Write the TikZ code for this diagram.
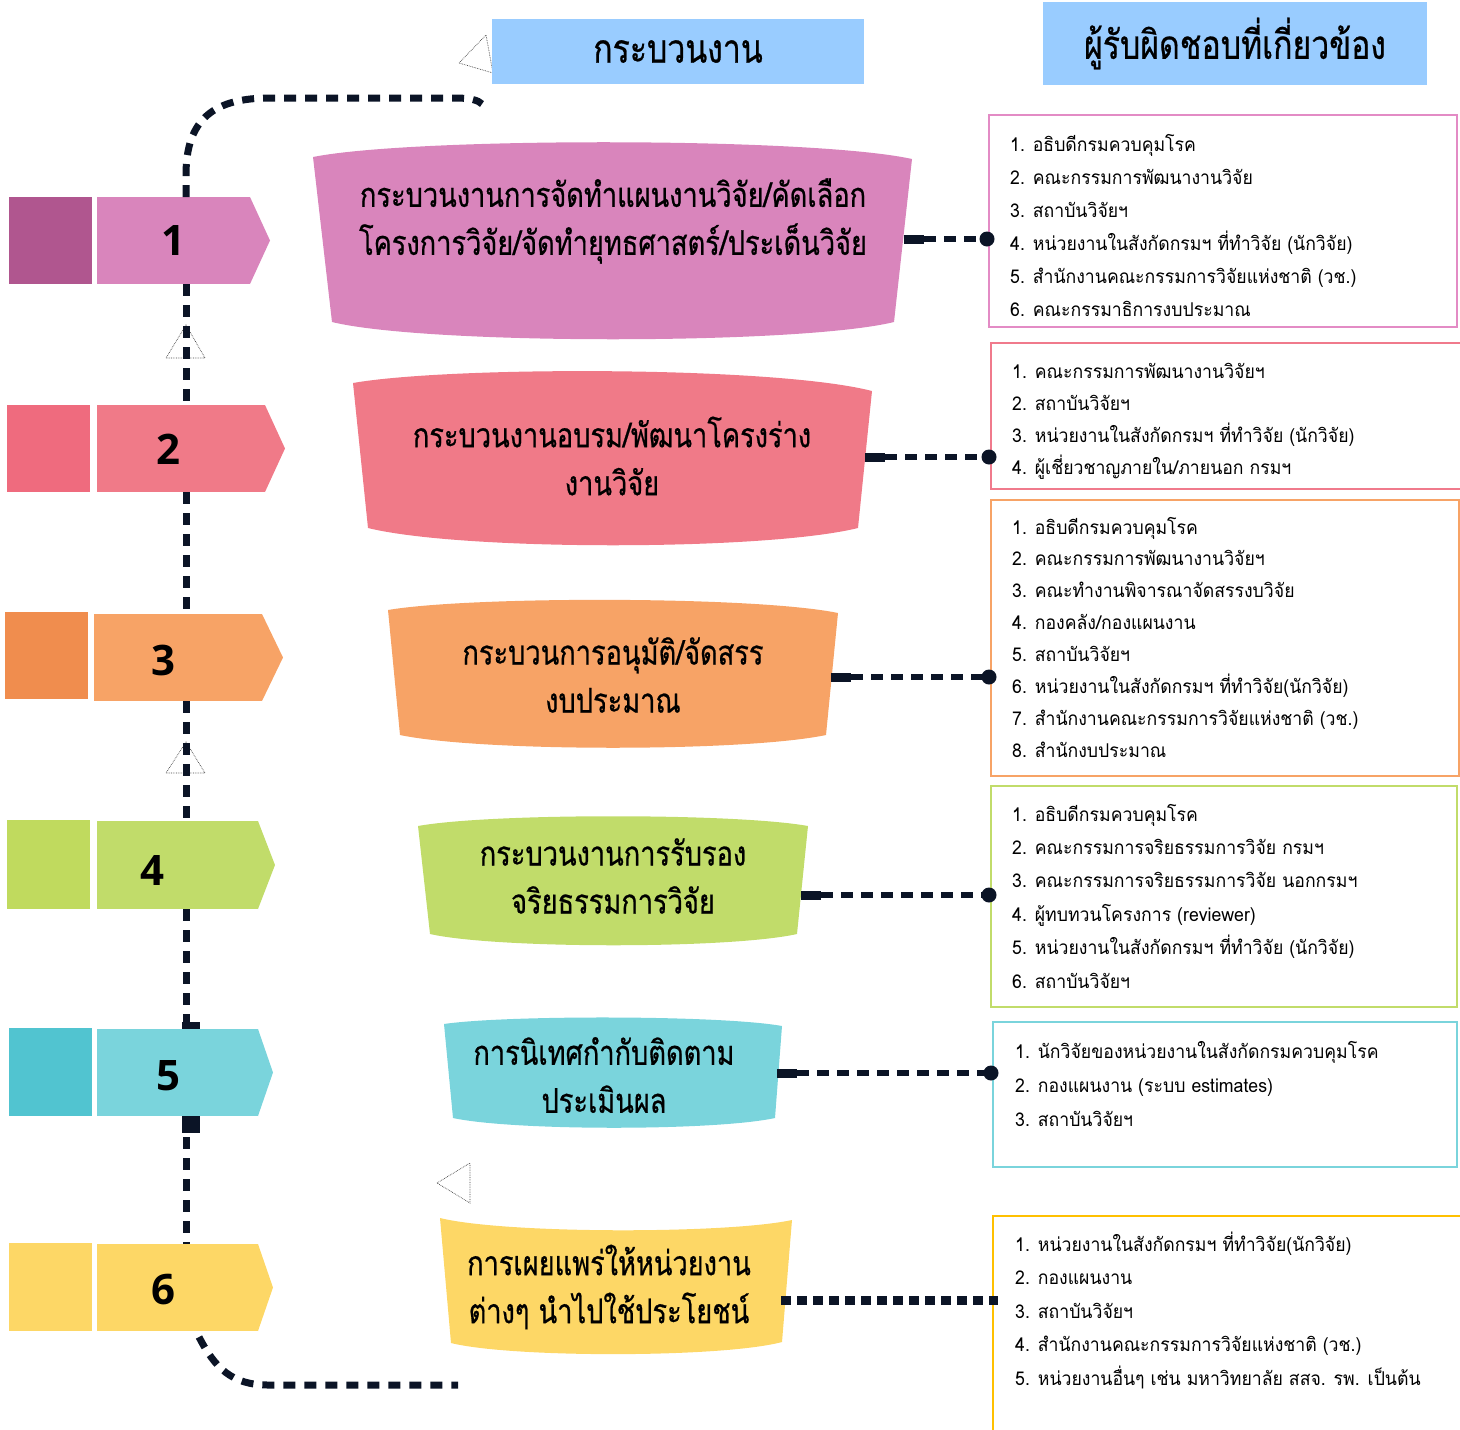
\documentclass[tikz,border=0pt]{standalone}
\usepackage{fontspec}
\newfontfamily\thaifont[Script=Thai,FakeStretch=0.93]{Loma}
\newfontfamily\thaicond[Script=Thai,FakeStretch=0.8,FakeBold=0.6]{Loma}
\newfontfamily\numfont{Open Sans}
\usetikzlibrary{calc,arrows.meta}
\definecolor{lnc}{HTML}{0B1426}
\definecolor{hdrblue}{HTML}{99CCFF}
\definecolor{ma1}{HTML}{B0568F}\definecolor{mb1}{HTML}{D985BC}
\definecolor{ma2}{HTML}{EF6B7E}\definecolor{mb2}{HTML}{F07A88}
\definecolor{ma3}{HTML}{F08D4E}\definecolor{mb3}{HTML}{F7A366}
\definecolor{ma4}{HTML}{C0DA5E}\definecolor{mb4}{HTML}{C1DC6A}
\definecolor{ma5}{HTML}{51C4D0}\definecolor{mb5}{HTML}{7AD4DC}
\definecolor{ma6}{HTML}{FDD766}\definecolor{mb6}{HTML}{FDD766}
\definecolor{bd1}{HTML}{E38BC5}\definecolor{bd2}{HTML}{F07A8C}
\definecolor{bd3}{HTML}{F7A366}\definecolor{bd4}{HTML}{C1DC6A}
\definecolor{bd5}{HTML}{7AD4DC}\definecolor{bd6}{HTML}{FFC000}
\newcommand{\listitems}[5]{%
  \foreach \t [count=\i from 0] in {#5}
    \node[listtxt] (#1-\i) at (#2,{#3+\i*#4}) {\t};}
\begin{document}
\begin{tikzpicture}[x=1pt,y=-1pt,
  flow/.style={draw=lnc,line width=7pt,dash pattern=on 12pt off 9pt},
  conn/.style={draw=lnc,line width=6.5pt,dash pattern=on 12pt off 8pt},
  connstart/.style={draw=lnc,line width=9pt},
  dotconn/.style={draw=lnc,line width=9pt,dash pattern=on 10pt off 6pt},
  enddot/.style={fill=lnc},
  tri/.style={fill=white,draw=black!75,line width=0.7pt,densely dotted},
  hdr/.style={fill=hdrblue,inner sep=0pt,font=\thaicond\fontsize{40}{46}\selectfont},
  pent/.style={inner sep=0pt,outer sep=0pt},
  num/.style={font=\numfont\bfseries\fontsize{42}{46}\selectfont,inner sep=0pt},
  btxt/.style={align=center,inner sep=0pt,font=\thaicond\fontsize{34}{48}\selectfont},
  rbox/.style={line width=2pt,fill=white,inner sep=0pt},
  listtxt/.style={anchor=base west,inner sep=0pt,font=\thaifont\fontsize{19}{22}\selectfont}]
\useasboundingbox (0,0) rectangle (1460,1430);
\coordinate (vx) at (186,0);

% ---------- markers (pentagon bodies as nodes)
\node[pent,fill=mb1,minimum width=153pt,minimum height=87pt] (p1) at (173.5,240.5) {};
\node[pent,fill=mb2,minimum width=168pt,minimum height=87pt] (p2) at (181,448.5) {};
\node[pent,fill=mb3,minimum width=168pt,minimum height=87pt] (p3) at (178,657.5) {};
\node[pent,fill=mb4,minimum width=161pt,minimum height=88pt] (p4) at (177.5,865) {};
\node[pent,fill=mb5,minimum width=161pt,minimum height=87pt] (p5) at (177.5,1072.5) {};
\node[pent,fill=mb6,minimum width=161pt,minimum height=87pt] (p6) at (177.5,1287.5) {};

% ---------- triangles on the flow
\filldraw[tri] (166,358) -- (205,358) -- (186,325) -- cycle;
\filldraw[tri] (166,773) -- (205,773) -- (186,742) -- cycle;
\filldraw[tri] (437,1183) -- (470,1163) -- (470,1203) -- cycle;
\filldraw[tri] (459,63) -- (486,35) -- (493,73) -- cycle;

% ---------- vertical flow between markers
\draw[flow] (p1.south -| vx) -- (p2.north -| vx);
\draw[flow] (p2.south -| vx) -- (p3.north -| vx);
\draw[flow] (p3.south -| vx) -- (p4.north -| vx);
\draw[flow] (p4.south -| vx) -- (p5.north -| vx);
\draw[flow] (p5.south -| vx) -- (p6.north -| vx);
\fill[lnc] (182,1022) rectangle (200,1029);
\fill[lnc] (182,1116) rectangle (200,1133);

% ---------- loops
\coordinate (topend) at (482,104);
\coordinate (botend) at (458,1385);
\draw[flow] (p1.north -| vx) -- ++(0,-22) .. controls (186,118) and (215,98) .. (270,98) -- (455,98) .. controls (470,98) and (478,100) .. (topend);
\draw[flow] ($(p6.south -| vx)+(13,6)$) .. controls (215,1368) and (232,1385) .. (268,1385) -- (botend);

% ---------- marker squares, tips and numbers
\fill[ma1] (9,197) rectangle (92,284);
\fill[ma2] (7,405) rectangle (90,492);
\fill[ma3] (5,612) rectangle (88,699);
\fill[ma4] (7,820) rectangle (90,909);
\fill[ma5] (9,1028) rectangle (92,1116);
\fill[ma6] (9,1243) rectangle (92,1331);
\fill[mb1] (p1.north east) -- (270,240.5) -- (p1.south east) -- cycle;
\fill[mb2] (p2.north east) -- (285,448.5) -- (p2.south east) -- cycle;
\fill[mb3] (p3.north east) -- (283,657.5) -- (p3.south east) -- cycle;
\fill[mb4] (p4.north east) -- (275,865) -- (p4.south east) -- cycle;
\fill[mb5] (p5.north east) -- (273,1072.5) -- (p5.south east) -- cycle;
\fill[mb6] (p6.north east) -- (273,1287.5) -- (p6.south east) -- cycle;
\node[num] (n1) at (173,241) {1};
\node[num] (n2) at (168,449) {2};
\node[num] (n3) at (163,660) {3};
\node[num] (n4) at (152,870) {4};
\node[num] (n5) at (168,1076) {5};
\node[num] (n6) at (163,1290) {6};

% ---------- headers
\node[hdr,minimum width=372pt,minimum height=65pt] (h1) at (678,51.5) {กระบวนงาน};
\node[hdr,minimum width=384pt,minimum height=83pt] (h2) at (1235,43.5) {ผู้รับผิดชอบที่เกี่ยวข้อง};

% ---------- banners
\fill[mb1] (313,157) .. controls (413,137) and (812,137) .. (912,159) -- (894,322) .. controls (800,345) and (426,345) .. (332,322) -- cycle;
\fill[mb2] (353,383) .. controls (450,366) and (775,366) .. (872,391) -- (858,528) .. controls (765,551) and (461,551) .. (368,528) -- cycle;
\fill[mb3] (388,610) .. controls (470,596) and (756,596) .. (838,613) -- (826,735) .. controls (745,752) and (481,752) .. (400,735) -- cycle;
\fill[mb4] (418,826) .. controls (490,813) and (736,813) .. (808,826) -- (797,934) .. controls (730,949) and (497,949) .. (430,934) -- cycle;
\fill[mb5] (444,1024) .. controls (505,1015) and (721,1015) .. (782,1026) -- (775,1118) .. controls (715,1131) and (513,1131) .. (453,1118) -- cycle;
\fill[mb6] (440,1218) .. controls (505,1234) and (727,1234) .. (792,1220) -- (782,1342) .. controls (722,1358) and (511,1358) .. (451,1343) -- cycle;
\node[btxt] (s1) at (613,221) {กระบวนงานการจัดทำแผนงานวิจัย/คัดเลือก\\โครงการวิจัย/จัดทำยุทธศาสตร์/ประเด็นวิจัย};
\node[btxt] (s2) at (612,456) {กระบวนงานอบรม/พัฒนาโครงร่าง\\งานวิจัย};
\node[btxt] (s3) at (613,675) {กระบวนการอนุมัติ/จัดสรร\\งบประมาณ};
\node[btxt] (s4) at (613,876) {กระบวนงานการรับรอง\\จริยธรรมการวิจัย};
\node[btxt] (s5) at (604,1075) {การนิเทศกำกับติดตาม\\ประเมินผล};
\node[btxt] (s6) at (609,1287) {การเผยแพร่ให้หน่วยงาน\\ต่างๆ นำไปใช้ประโยชน์};
\coordinate (s1r) at (904,239);
\coordinate (s2r) at (865,457);
\coordinate (s3r) at (831,677);
\coordinate (s4r) at (801,895);
\coordinate (s5r) at (777,1073);
\coordinate (s6r) at (781,1300);

% ---------- responsibility boxes
\node[rbox,draw=bd1,minimum width=468pt,minimum height=212pt] (b1) at (1223,221) {};
\node[rbox,draw=bd2,minimum width=471pt,minimum height=146pt] (b2) at (1226.5,416) {};
\node[rbox,draw=bd3,minimum width=468pt,minimum height=276pt] (b3) at (1225,638) {};
\node[rbox,draw=bd4,minimum width=466pt,minimum height=221pt] (b4) at (1224,896.5) {};
\node[rbox,draw=bd5,minimum width=464pt,minimum height=145pt] (b5) at (1225,1094.5) {};
\node[rbox,draw=bd6,minimum width=469pt,minimum height=230pt] (b6) at (1227.5,1331) {};

\listitems{l1}{1010}{151}{33}{{1. อธิบดีกรมควบคุมโรค},{2. คณะกรรมการพัฒนางานวิจัย},{3. สถาบันวิจัยฯ},{4. หน่วยงานในสังกัดกรมฯ ที่ทำวิจัย (นักวิจัย)},{5. สำนักงานคณะกรรมการวิจัยแห่งชาติ (วช.)},{6. คณะกรรมาธิการงบประมาณ}}
\listitems{l2}{1012}{378}{32}{{1. คณะกรรมการพัฒนางานวิจัยฯ},{2. สถาบันวิจัยฯ},{3. หน่วยงานในสังกัดกรมฯ ที่ทำวิจัย (นักวิจัย)},{4. ผู้เชี่ยวชาญภายใน/ภายนอก กรมฯ}}
\listitems{l3}{1012}{534}{31.9}{{1. อธิบดีกรมควบคุมโรค},{2. คณะกรรมการพัฒนางานวิจัยฯ},{3. คณะทำงานพิจารณาจัดสรรงบวิจัย},{4. กองคลัง/กองแผนงาน},{5. สถาบันวิจัยฯ},{6. หน่วยงานในสังกัดกรมฯ ที่ทำวิจัย(นักวิจัย)},{7. สำนักงานคณะกรรมการวิจัยแห่งชาติ (วช.)},{8. สำนักงบประมาณ}}
\listitems{l4}{1012}{821}{33.4}{{1. อธิบดีกรมควบคุมโรค},{2. คณะกรรมการจริยธรรมการวิจัย กรมฯ},{3. คณะกรรมการจริยธรรมการวิจัย นอกกรมฯ},{4. ผู้ทบทวนโครงการ (reviewer)},{5. หน่วยงานในสังกัดกรมฯ ที่ทำวิจัย (นักวิจัย)},{6. สถาบันวิจัยฯ}}
\listitems{l5}{1015}{1058}{34}{{1. นักวิจัยของหน่วยงานในสังกัดกรมควบคุมโรค},{2. กองแผนงาน (ระบบ estimates)},{3. สถาบันวิจัยฯ}}
\listitems{l6}{1015}{1251}{33.5}{{1. หน่วยงานในสังกัดกรมฯ ที่ทำวิจัย(นักวิจัย)},{2. กองแผนงาน},{3. สถาบันวิจัยฯ},{4. สำนักงานคณะกรรมการวิจัยแห่งชาติ (วช.)},{5. หน่วยงานอื่นๆ เช่น มหาวิทยาลัย สสจ. รพ. เป็นต้น}}

% ---------- connectors banner -> box
\foreach \k in {1,...,5}{
  \draw[connstart] (s\k r) -- ++(20,0);
  \draw[conn] ($(s\k r)+(20,0)$) -- ($(s\k r -| b\k.west)+(-6,0)$);
  \fill[enddot] (s\k r -| b\k.west) ++(-1,0) circle (7.5);
}
\draw[dotconn] (s6r) -- ($(s6r -| b6.west)+(6,0)$);
\end{tikzpicture}
\end{document}
